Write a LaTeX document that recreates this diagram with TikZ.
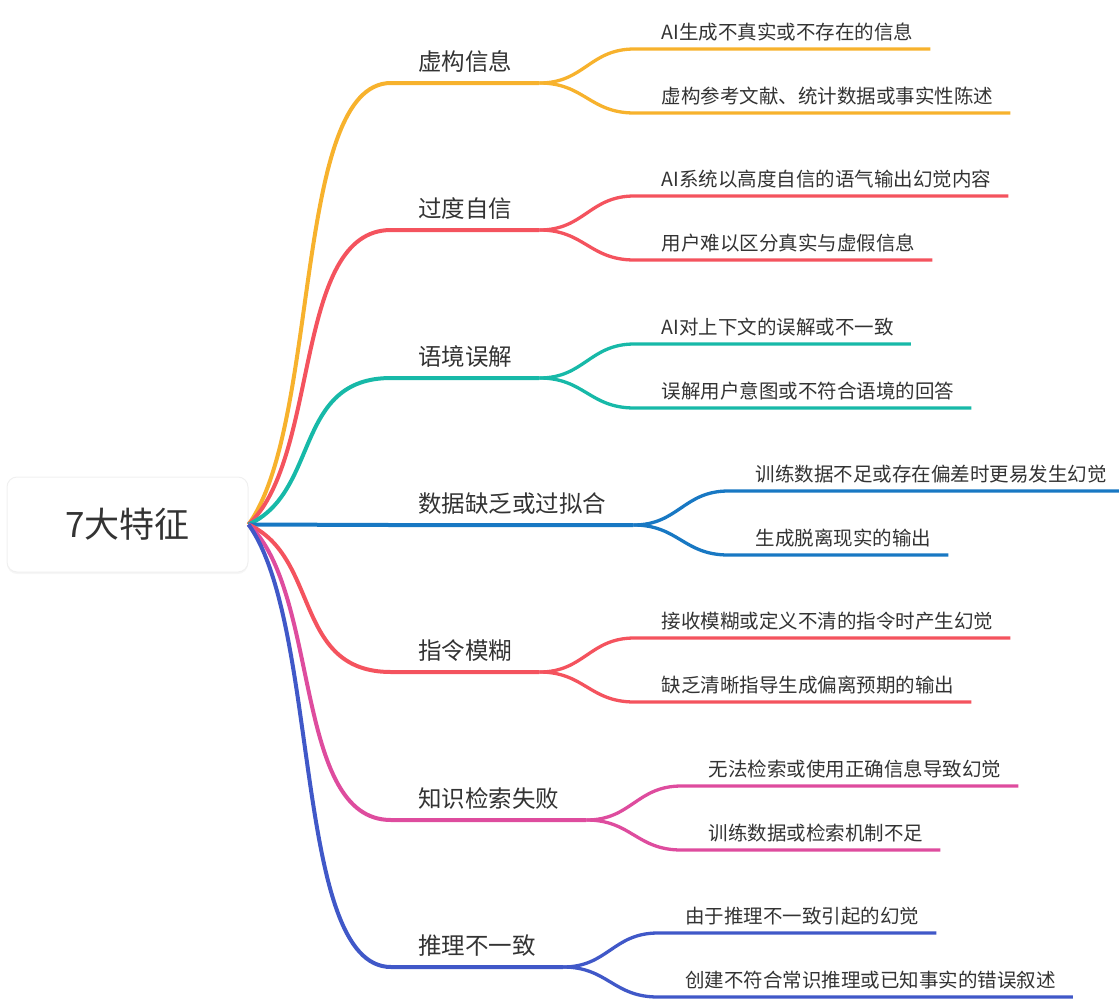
\documentclass[tikz,border=0pt]{standalone}
\usepackage{fontspec}
\setmainfont{Noto Sans CJK SC}
\usepackage{tikz}
\usetikzlibrary{shadows}
\definecolor{cyel}{HTML}{F7B22D}
\definecolor{cred}{HTML}{F4535E}
\definecolor{ctea}{HTML}{17B9A8}
\definecolor{cblu}{HTML}{1878C3}
\definecolor{cmag}{HTML}{DE4C9E}
\definecolor{cind}{HTML}{4058C8}
\definecolor{ctxt}{HTML}{333333}
\tikzstyle{root}=[rounded corners=10pt, fill=white, draw=black!6, line width=1pt, minimum width=241pt, minimum height=95pt, text=ctxt, font=\fontsize{35}{40}\selectfont, drop shadow={opacity=0.07, shadow xshift=0pt, shadow yshift=-2pt}]
\tikzstyle{topic}=[anchor=south west, inner xsep=27pt, inner ysep=12pt, text depth=0pt, text=ctxt, font=\fontsize{23.5}{28}\selectfont]
\tikzstyle{leaf}=[anchor=south west, inner xsep=17pt, inner ysep=9.5pt, text depth=0pt, text=ctxt, font=\fontsize{19.5}{24}\selectfont]
\tikzstyle{br}=[line width=4pt]
\tikzstyle{tw}=[line width=3.3pt]

\begin{document}
\begin{tikzpicture}
[x=1pt, y=-1pt]
 \useasboundingbox (0,0) rectangle (1119,1002);
 \node[root] (r) at (127.5,524.5) {7大特征};
 % first level
 \node[topic] (1t) at (391,83) {虚构信息};
 \node[topic] (2t) at (391,230) {过度自信};
 \node[topic] (3t) at (391,378) {语境误解};
 \node[topic] (4t) at (391,525) {数据缺乏或过拟合};
 \node[topic] (5t) at (391,672) {指令模糊};
 \node[topic] (6t) at (391,820) {知识检索失败};
 \node[topic] (7t) at (391,967) {推理不一致};
 % second level
 \node[leaf] (1t1) at ([shift={(105,-34)}]1t.south east) {AI生成不真实或不存在的信息};
 \node[leaf] (1t2) at ([shift={(105,30)}]1t.south east) {虚构参考文献、统计数据或事实性陈述};
 \node[leaf] (2t1) at ([shift={(105,-34)}]2t.south east) {AI系统以高度自信的语气输出幻觉内容};
 \node[leaf] (2t2) at ([shift={(105,30)}]2t.south east) {用户难以区分真实与虚假信息};
 \node[leaf] (3t1) at ([shift={(105,-34)}]3t.south east) {AI对上下文的误解或不一致};
 \node[leaf] (3t2) at ([shift={(105,30)}]3t.south east) {误解用户意图或不符合语境的回答};
 \node[leaf] (4t1) at ([shift={(105,-34)}]4t.south east) {训练数据不足或存在偏差时更易发生幻觉};
 \node[leaf] (4t2) at ([shift={(105,30)}]4t.south east) {生成脱离现实的输出};
 \node[leaf] (5t1) at ([shift={(105,-34)}]5t.south east) {接收模糊或定义不清的指令时产生幻觉};
 \node[leaf] (5t2) at ([shift={(105,30)}]5t.south east) {缺乏清晰指导生成偏离预期的输出};
 \node[leaf] (6t1) at ([shift={(105,-34)}]6t.south east) {无法检索或使用正确信息导致幻觉};
 \node[leaf] (6t2) at ([shift={(105,30)}]6t.south east) {训练数据或检索机制不足};
 \node[leaf] (7t1) at ([shift={(105,-34)}]7t.south east) {由于推理不一致引起的幻觉};
 \node[leaf] (7t2) at ([shift={(105,30)}]7t.south east) {创建不符合常识推理或已知事实的错误叙述};
 % root to first level
 \draw[br,cyel] (r.east) .. controls +(72,-100) and +(-98,0) .. (1t.south west) -- (1t.south east);
 \draw[br,cred] (r.east) .. controls +(72,-67) and +(-98,0) .. (2t.south west) -- (2t.south east);
 \draw[br,ctea] (r.east) .. controls +(72,-33) and +(-98,0) .. (3t.south west) -- (3t.south east);
 \draw[br,cblu] (r.east) -- (4t.south west) -- (4t.south east);
 \draw[br,cred] (r.east) .. controls +(72,33) and +(-98,0) .. (5t.south west) -- (5t.south east);
 \draw[br,cmag] (r.east) .. controls +(72,67) and +(-98,0) .. (6t.south west) -- (6t.south east);
 \draw[br,cind] (r.east) .. controls +(72,100) and +(-98,0) .. (7t.south west) -- (7t.south east);
 % first level to second level
 \draw[tw,cyel] (1t.south east) .. controls +(45,0) and +(-45,0) .. ([xshift=-10pt]1t1.south west) -- (1t1.south east);
 \draw[tw,cyel] (1t.south east) .. controls +(45,0) and +(-45,0) .. ([xshift=-10pt]1t2.south west) -- (1t2.south east);
 \draw[tw,cred] (2t.south east) .. controls +(45,0) and +(-45,0) .. ([xshift=-10pt]2t1.south west) -- (2t1.south east);
 \draw[tw,cred] (2t.south east) .. controls +(45,0) and +(-45,0) .. ([xshift=-10pt]2t2.south west) -- (2t2.south east);
 \draw[tw,ctea] (3t.south east) .. controls +(45,0) and +(-45,0) .. ([xshift=-10pt]3t1.south west) -- (3t1.south east);
 \draw[tw,ctea] (3t.south east) .. controls +(45,0) and +(-45,0) .. ([xshift=-10pt]3t2.south west) -- (3t2.south east);
 \draw[tw,cblu] (4t.south east) .. controls +(45,0) and +(-45,0) .. ([xshift=-10pt]4t1.south west) -- (4t1.south east);
 \draw[tw,cblu] (4t.south east) .. controls +(45,0) and +(-45,0) .. ([xshift=-10pt]4t2.south west) -- (4t2.south east);
 \draw[tw,cred] (5t.south east) .. controls +(45,0) and +(-45,0) .. ([xshift=-10pt]5t1.south west) -- (5t1.south east);
 \draw[tw,cred] (5t.south east) .. controls +(45,0) and +(-45,0) .. ([xshift=-10pt]5t2.south west) -- (5t2.south east);
 \draw[tw,cmag] (6t.south east) .. controls +(45,0) and +(-45,0) .. ([xshift=-10pt]6t1.south west) -- (6t1.south east);
 \draw[tw,cmag] (6t.south east) .. controls +(45,0) and +(-45,0) .. ([xshift=-10pt]6t2.south west) -- (6t2.south east);
 \draw[tw,cind] (7t.south east) .. controls +(45,0) and +(-45,0) .. ([xshift=-10pt]7t1.south west) -- (7t1.south east);
 \draw[tw,cind] (7t.south east) .. controls +(45,0) and +(-45,0) .. ([xshift=-10pt]7t2.south west) -- (7t2.south east);
\end{tikzpicture}
\end{document}
